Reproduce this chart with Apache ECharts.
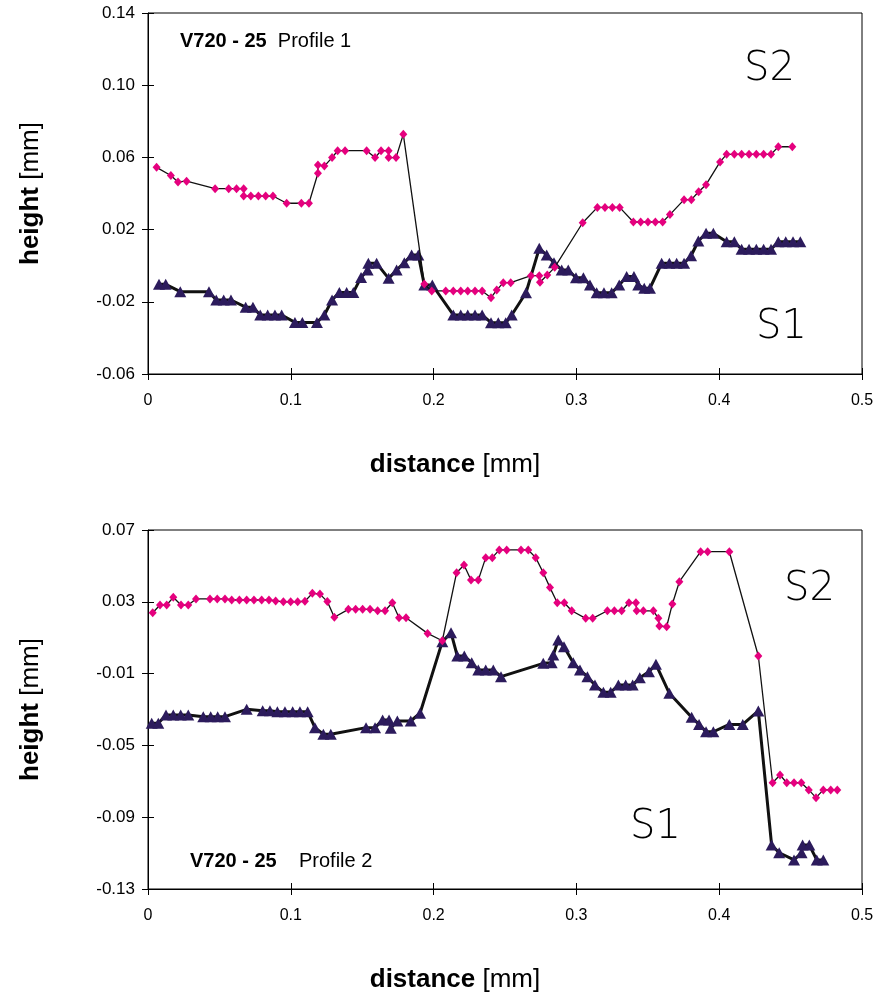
<!DOCTYPE html>
<html>
<head>
<meta charset="utf-8">
<script src="https://cdn.jsdelivr.net/npm/echarts@6/dist/echarts.min.js"></script>
<style>
  html, body { margin: 0; padding: 0; background: #fff; }
  #main { width: 882px; height: 998px; }
</style>
</head>
<body>
<div id="main"></div>
<script>
// profile 1 (top)
var p1DistS2 = [0.006, 0.016, 0.021, 0.027, 0.047, 0.0565, 0.062, 0.067, 0.067, 0.072, 0.0773, 0.0824, 0.0875, 0.0971, 0.1074, 0.1127,
    0.119, 0.119, 0.1235, 0.1289, 0.1328, 0.138, 0.1531, 0.159, 0.1632, 0.1685, 0.1685, 0.1737, 0.1788, 0.1935, 0.1987,
    0.2085, 0.2138, 0.219, 0.2239, 0.229, 0.234, 0.2402, 0.2442, 0.2488, 0.254, 0.2682, 0.274, 0.2745, 0.2796, 0.2848,
    0.3044, 0.3147, 0.32, 0.3252, 0.3303, 0.3399, 0.345, 0.3501, 0.3553, 0.3604, 0.3655, 0.3754, 0.3805, 0.3856, 0.3908,
    0.4006, 0.4052, 0.4106, 0.4157, 0.4209, 0.426, 0.4311, 0.4363, 0.4414, 0.4512];
var p1S2 = [0.0545, 0.050, 0.0464, 0.0468, 0.0427, 0.0427, 0.0427, 0.0427, 0.0386, 0.0386, 0.0386, 0.0386, 0.0386, 0.0346, 0.0346, 0.0346,
    0.0512, 0.0558, 0.0552, 0.0599, 0.0637, 0.0637, 0.0637, 0.0599, 0.0637, 0.0637, 0.0599, 0.0599, 0.0728, -0.0101, -0.014,
    -0.014, -0.014, -0.014, -0.014, -0.014, -0.014, -0.0177, -0.0135, -0.0094, -0.0094, -0.0055, -0.0055, -0.0092, -0.0052, -0.0009,
    0.0238, 0.0323, 0.0323, 0.0323, 0.0323, 0.0242, 0.0242, 0.0242, 0.0242, 0.0242, 0.0283, 0.0366, 0.0366, 0.041, 0.0449,
    0.0575, 0.0617, 0.0617, 0.0617, 0.0617, 0.0617, 0.0617, 0.0617, 0.0659, 0.0659];

var p1DistS1 = [0.0077, 0.0124, 0.0226, 0.0427, 0.0478, 0.053, 0.0581, 0.0684, 0.0735, 0.0786, 0.0838, 0.0889, 0.0936, 0.1029, 0.1081, 0.1183,
    0.1235, 0.1289, 0.134, 0.1391, 0.1438, 0.1492, 0.1538, 0.1543, 0.1601, 0.1685, 0.1741, 0.1795, 0.1846, 0.1893, 0.1935, 0.1991,
    0.2138, 0.219, 0.2239, 0.229, 0.234, 0.2402, 0.2453, 0.2505, 0.2547, 0.2647, 0.274, 0.2792, 0.2843, 0.2897, 0.2943, 0.2997,
    0.3049, 0.3095, 0.3142, 0.3193, 0.3247, 0.33, 0.3352, 0.3403, 0.3433, 0.3475, 0.3515, 0.3597, 0.3651, 0.3702, 0.3754, 0.3803,
    0.3854, 0.3908, 0.3959, 0.4052, 0.4106, 0.4157, 0.4209, 0.426, 0.4311, 0.4363, 0.4414, 0.4466, 0.4517, 0.4568];
var p1S1 = [-0.0103, -0.0103, -0.0144, -0.0144, -0.019, -0.019, -0.019, -0.023, -0.023, -0.0273, -0.0273, -0.0273, -0.0273, -0.0314, -0.0314, -0.0314,
    -0.0273, -0.019, -0.0148, -0.0148, -0.0148, -0.0065, -0.0024, 0.0013, 0.0013, -0.007, -0.0024, 0.0017, 0.0059, 0.0059, -0.0107, -0.0107,
    -0.0273, -0.0273, -0.0273, -0.0273, -0.0273, -0.0316, -0.0316, -0.0316, -0.0273, -0.015, 0.0096, 0.0059, 0.0017, -0.0024, -0.0024, -0.0067,
    -0.0067, -0.0107, -0.015, -0.015, -0.015, -0.0107, -0.006, -0.006, -0.0107, -0.0125, -0.0125, 0.0013, 0.0013, 0.0013, 0.0013, 0.0055,
    0.0137, 0.018, 0.018, 0.0133, 0.0133, 0.0091, 0.0091, 0.0091, 0.0091, 0.0091, 0.0133, 0.0133, 0.0133, 0.0133];

// profile 2 (bottom)
var p2DistS2 = [0.0033, 0.0084, 0.0131, 0.0177, 0.0231, 0.0282, 0.0336, 0.0434, 0.0485, 0.0539, 0.0586, 0.064, 0.0691, 0.0742, 0.0796, 0.0847,
    0.0894, 0.0948, 0.0999, 0.1048, 0.1099, 0.1151, 0.1204, 0.1256, 0.1305, 0.1403, 0.1454, 0.1503, 0.1555, 0.1608, 0.166, 0.1711,
    0.1758, 0.1807, 0.1958, 0.2061, 0.2161, 0.2213, 0.2262, 0.2313, 0.2365, 0.2411, 0.246, 0.2512, 0.2612, 0.2663, 0.2715, 0.2768,
    0.2815, 0.2866, 0.2915, 0.2967, 0.3065, 0.3114, 0.3217, 0.3266, 0.3317, 0.3368, 0.3417, 0.3422, 0.3469, 0.3539, 0.3574, 0.3581,
    0.3632, 0.3672, 0.3721, 0.387, 0.3919, 0.4071, 0.4274, 0.4374, 0.4426, 0.4473, 0.4524, 0.4575, 0.4627, 0.4678, 0.4729, 0.4781, 0.4827];
var p2S2 = [0.0239, 0.0282, 0.0282, 0.0325, 0.0282, 0.0282, 0.0316, 0.0316, 0.0316, 0.0316, 0.031, 0.031, 0.031, 0.031, 0.031, 0.031,
    0.0305, 0.030, 0.030, 0.030, 0.0303, 0.0347, 0.0343, 0.0301, 0.0214, 0.0258, 0.0258, 0.0258, 0.0258, 0.025, 0.025, 0.0295,
    0.0211, 0.0211, 0.0124, 0.0083, 0.0462, 0.0505, 0.0421, 0.0421, 0.0546, 0.0546, 0.0589, 0.0589, 0.0589, 0.0589, 0.0546, 0.0462,
    0.0379, 0.0295, 0.0295, 0.025, 0.0208, 0.0208, 0.025, 0.025, 0.025, 0.0295, 0.0295, 0.025, 0.025, 0.025, 0.0208, 0.0165,
    0.0161, 0.0288, 0.0412, 0.0579, 0.0579, 0.0579, -0.0002, -0.0708, -0.0665, -0.0708, -0.0708, -0.0708, -0.0748, -0.0791, -0.0748, -0.0748, -0.0748];

var p2DistS1 = [0.0026, 0.0072, 0.0126, 0.0177, 0.0229, 0.0282, 0.0387, 0.0439, 0.0488, 0.0539, 0.0691, 0.0803, 0.0854, 0.0906, 0.0959, 0.1013,
    0.1064, 0.1118, 0.1169, 0.1228, 0.128, 0.1527, 0.159, 0.1643, 0.1688, 0.17, 0.1746, 0.184, 0.1905, 0.2061, 0.2122, 0.2166,
    0.2215, 0.2267, 0.2313, 0.2365, 0.2418, 0.2472, 0.2768, 0.2827, 0.2838, 0.2873, 0.2913, 0.2978, 0.3025, 0.3077, 0.313, 0.3189,
    0.324, 0.3294, 0.3345, 0.3394, 0.3444, 0.3508, 0.3557, 0.3651, 0.3807, 0.3859, 0.3908, 0.3959, 0.4071, 0.4165, 0.4274, 0.4367,
    0.442, 0.4524, 0.4577, 0.4584, 0.4631, 0.4683, 0.4729];
var p2S1 = [-0.0377, -0.0377, -0.0331, -0.0331, -0.0331, -0.0331, -0.034, -0.034, -0.034, -0.034, -0.0299, -0.0307, -0.0307, -0.0312, -0.0312, -0.0312,
    -0.0312, -0.0312, -0.0401, -0.0438, -0.0438, -0.0401, -0.0401, -0.0358, -0.0358, -0.0405, -0.0364, -0.0364, -0.0321, 0.0078, 0.0128, -0.0002,
    -0.0002, -0.0039, -0.008, -0.008, -0.008, -0.0117, -0.0043, -0.004, 0.0004, 0.0087, 0.005, -0.0039, -0.008, -0.0117, -0.0164, -0.0204,
    -0.0204, -0.0164, -0.0164, -0.0164, -0.0123, -0.0089, -0.0048, -0.021, -0.0343, -0.0383, -0.0424, -0.0424, -0.0383, -0.0383, -0.0308, -0.1055,
    -0.1098, -0.1138, -0.1098, -0.1055, -0.1055, -0.1138, -0.1138];

var xTicks = [0, 0.5, 0.1];          // min, max, interval
var p1YTicks = [-0.06, 0.14, 0.04];
var p2YTicks = [-0.13, 0.07, 0.04];

function pairs(xs, ys) {
    return xs.map(function (x, i) { return [x, ys[i]]; });
}

var myChart = echarts.init(document.getElementById('main'));

var font = 'Liberation Sans, Arial, sans-serif';
var pink = '#e5007e';
var navy = '#2c1b5c';

var titleStyle = {
    color: '#000', fontSize: 26, fontFamily: font,
    rich: { b: { fontWeight: 'bold', fontSize: 26, fontFamily: font, color: '#000' } }
};

// two axes per side so the ticks cross the axis line
function xAxes(grid) {
    var base = {
        type: 'value', gridIndex: grid, position: 'bottom', offset: 0,
        min: xTicks[0], max: xTicks[1], interval: xTicks[2],
        splitLine: { show: false }
    };
    return [
        Object.assign({}, base, {
            axisLine: { onZero: false, lineStyle: { color: '#000', width: 1 } },
            axisTick: { inside: false, length: 6, lineStyle: { color: '#000' } },
            axisLabel: { color: '#000', fontSize: 16, fontFamily: font, margin: 19 },
            name: '{b|distance} [mm]',
            nameLocation: 'middle',
            nameGap: 78,
            nameTextStyle: Object.assign({ padding: [0, 100, 0, 0] }, titleStyle)
        }),
        Object.assign({}, base, {
            axisLine: { show: false, onZero: false },
            axisTick: { inside: true, length: 6, lineStyle: { color: '#000' } },
            axisLabel: { show: false }
        })
    ];
}

function yAxes(grid, ticks) {
    var base = {
        type: 'value', gridIndex: grid, position: 'left', offset: 0,
        min: ticks[0], max: ticks[1], interval: ticks[2],
        splitLine: { show: false }
    };
    return [
        Object.assign({}, base, {
            axisLine: { show: true, onZero: false, lineStyle: { color: '#000', width: 1 } },
            axisTick: { show: true, inside: false, length: 6, lineStyle: { color: '#000' } },
            axisLabel: {
                color: '#000', fontSize: 17, fontFamily: font, margin: 13,
                formatter: function (v) { return v.toFixed(2); }
            },
            name: '{b|height} [mm]',
            nameLocation: 'middle',
            nameRotate: 90,
            nameGap: 104,
            nameTextStyle: titleStyle
        }),
        Object.assign({}, base, {
            axisLine: { show: false, onZero: false },
            axisTick: { show: true, inside: true, length: 6, lineStyle: { color: '#000' } },
            axisLabel: { show: false }
        })
    ];
}

function s1Series(x, y, data) {
    return {
        type: 'line', xAxisIndex: x, yAxisIndex: y, data: data,
        symbol: 'triangle', symbolSize: [12, 11],
        itemStyle: { color: navy },
        lineStyle: { color: '#111', width: 3 },
        animation: false, z: 2
    };
}

function s2Series(x, y, data) {
    return {
        type: 'line', xAxisIndex: x, yAxisIndex: y, data: data,
        symbol: 'diamond', symbolSize: [8, 9],
        itemStyle: { color: pink },
        lineStyle: { color: '#111', width: 1.3 },
        animation: false, z: 3
    };
}

var labelFont = '200 40px DejaVu Sans, sans-serif';
var boldRich = { b: { fontWeight: 'bold', fontSize: 20, fontFamily: font } };

let option = {
    backgroundColor: '#fff',
    textStyle: { fontFamily: font },
    grid: [
        { left: 148, top: 13, width: 714, height: 361, show: true, borderColor: '#000', borderWidth: 1, backgroundColor: 'transparent' },
        { left: 148, top: 530, width: 714, height: 359, show: true, borderColor: '#000', borderWidth: 1, backgroundColor: 'transparent' }
    ],
    xAxis: xAxes(0).concat(xAxes(1)),
    yAxis: yAxes(0, p1YTicks).concat(yAxes(1, p2YTicks)),
    series: [
        s1Series(0, 0, pairs(p1DistS1, p1S1)),
        s2Series(0, 0, pairs(p1DistS2, p1S2)),
        s1Series(2, 2, pairs(p2DistS1, p2S1)),
        s2Series(2, 2, pairs(p2DistS2, p2S2))
    ],
    graphic: [
        {
            type: 'text', left: 180, top: 31,
            style: { text: '{b|V720 - 25}  Profile 1', fill: '#000', font: '20px ' + font, rich: boldRich }
        },
        {
            type: 'text', left: 190, top: 851,
            style: { text: '{b|V720 - 25}    Profile 2', fill: '#000', font: '20px ' + font, rich: boldRich }
        },
        { type: 'text', left: 744, top: 50, style: { text: 'S2', fill: '#000', font: labelFont } },
        { type: 'text', left: 756, top: 308, style: { text: 'S1', fill: '#000', font: labelFont } },
        { type: 'text', left: 784, top: 570, style: { text: 'S2', fill: '#000', font: labelFont } },
        { type: 'text', left: 630, top: 808, style: { text: 'S1', fill: '#000', font: labelFont } }
    ]
};

// 使用刚指定的配置项和数据显示图表。
myChart.setOption(option);
</script>
</body>
</html>
